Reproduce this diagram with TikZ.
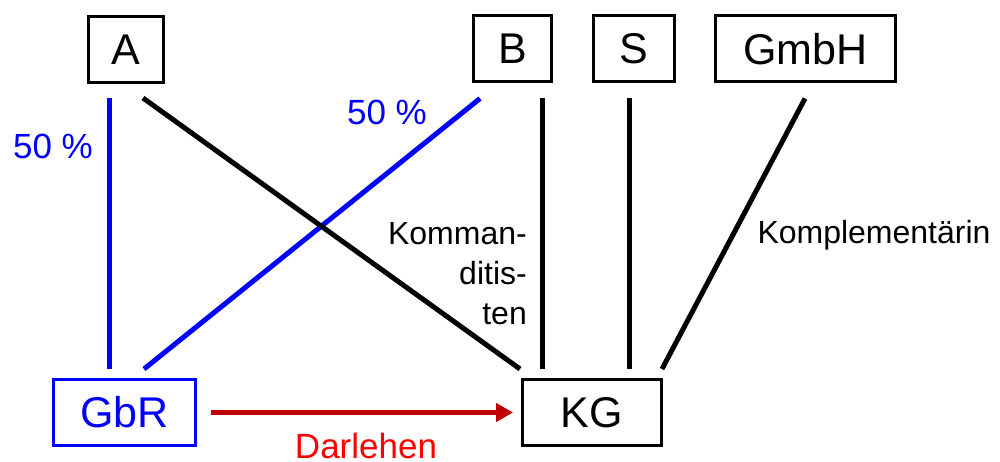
\documentclass[tikz,border=0pt]{standalone}
\usepackage{fontspec}
\setmainfont{Liberation Sans}
\usetikzlibrary{arrows.meta}
\definecolor{darkred}{RGB}{192,0,0}
\begin{document}
\begin{tikzpicture}[x=1pt,y=-1pt,
  box/.style={draw=black,line width=3pt,minimum height=66pt,inner sep=0pt,font=\fontsize{43}{50}\selectfont},
  conn/.style={line width=5pt},
  lbl/.style={font=\fontsize{32}{40}\selectfont,inner sep=0pt},
  pct/.style={font=\fontsize{35}{42}\selectfont,inner sep=0pt,text=blue}]
\useasboundingbox (0,0) rectangle (1000,462);
\node[box,minimum width=75pt] (A) at (126,49.5) {A};
\node[box,minimum width=78pt] (B) at (512.5,49) {B};
\node[box,minimum width=81pt] (S) at (634,49) {S};
\node[box,minimum width=180pt] (GmbH) at (805.5,49) {GmbH};
\node[box,draw=blue,text=blue,minimum width=142pt] (GbR) at (124.5,412.5) {GbR};
\node[box,minimum width=139pt] (KG) at (592,412.5) {KG};
\draw[conn,blue] ([xshift=-17pt,yshift=-14pt]A.south) -- ([xshift=-15.5pt,yshift=9pt]GbR.north);
\draw[conn,blue] ([xshift=-32.5pt,yshift=-15pt]B.south) -- ([xshift=19.5pt,yshift=9pt]GbR.north);
\draw[conn] ([xshift=17pt,yshift=-14pt]A.south) -- ([xshift=-72pt,yshift=9pt]KG.north);
\draw[conn] ([xshift=29.5pt,yshift=-15pt]B.south) -- ([xshift=-50pt,yshift=9pt]KG.north);
\draw[conn] ([xshift=-5pt,yshift=-15pt]S.south) -- ([xshift=37pt,yshift=9pt]KG.north);
\draw[conn] ([xshift=-0.5pt,yshift=-15pt]GmbH.south) -- ([xshift=70pt,yshift=9pt]KG.north);
\draw[line width=5pt,darkred,-{Triangle[length=17pt,width=18pt]}] ([xshift=14pt]GbR.east) -- ([xshift=-8pt]KG.west);
\node[pct] (p1) at (53,146) {50 \%};
\node[pct] (p2) at (387,112) {50 \%};
\node[lbl,align=right,anchor=east] (kom) at (527,274) {Komman-\\ditis-\\ten};
\node[lbl] (kpl) at (874,235) {Komplementärin};
\node[pct,text=red,anchor=base] (dar) at (366,458) {Darlehen};
\end{tikzpicture}
\end{document}
